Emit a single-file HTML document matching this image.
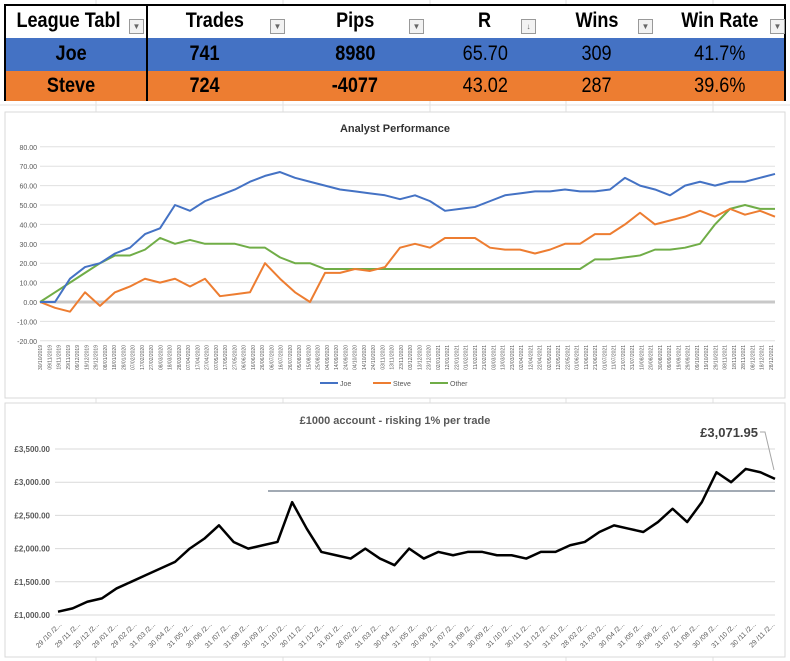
<!DOCTYPE html>
<html><head><meta charset="utf-8">
<style>
body{margin:0;width:790px;height:661px;overflow:hidden;background:#fff;font-family:"Liberation Sans",sans-serif;position:relative}
.cell{position:absolute;font-family:"Liberation Sans",sans-serif;font-size:21px;display:flex;align-items:center;justify-content:center}
.cell span{display:inline-block;transform:scaleX(0.86)}
.hdr{font-weight:bold}
.dd{position:absolute;width:13px;height:13px;border:1px solid #999;background:#f2f2f2;font-size:8px;color:#666;text-align:center;line-height:13px}
svg text{font-family:"Liberation Sans",sans-serif}
</style></head><body>
<svg width="790" height="661" style="position:absolute;left:0;top:0">
<g stroke="#e2e2e2" stroke-width="1">
<line x1="0" y1="105" x2="790" y2="105"/><line x1="96" y1="0" x2="96" y2="661"/><line x1="283" y1="0" x2="283" y2="661"/><line x1="430" y1="0" x2="430" y2="661"/><line x1="566" y1="0" x2="566" y2="661"/><line x1="713" y1="0" x2="713" y2="661"/>
</g></svg>
<div style="position:absolute;left:4px;top:4px;width:782px;height:97px;border:2px solid #000;box-sizing:border-box;background:#fff">
<div style="position:absolute;left:0;top:32px;width:778px;height:33px;background:#4472c4"></div>
<div style="position:absolute;left:0;top:65px;width:778px;height:30px;background:#ed7d31"></div>
<div style="position:absolute;left:140px;top:0;width:2px;height:95px;background:#000"></div>
</div>
<div class="cell hdr" style="left:-2px;top:4px;width:140px;height:34px"><span>League Tabl</span></div>
<div class="cell hdr" style="left:150px;top:4px;width:130px;height:34px"><span>Trades</span></div>
<div class="cell hdr" style="left:290px;top:4px;width:130px;height:34px"><span>Pips</span></div>
<div class="cell hdr" style="left:420px;top:4px;width:130px;height:34px"><span>R</span></div>
<div class="cell hdr" style="left:532px;top:4px;width:130px;height:34px"><span>Wins</span></div>
<div class="cell hdr" style="left:655px;top:4px;width:130px;height:34px"><span>Win Rate</span></div>
<div class="dd" style="left:129px;top:19px">▼</div>
<div class="dd" style="left:270px;top:19px">▼</div>
<div class="dd" style="left:409px;top:19px">▼</div>
<div class="dd" style="left:521px;top:19px">↓</div>
<div class="dd" style="left:638px;top:19px">▼</div>
<div class="dd" style="left:770px;top:19px">▼</div>
<div class="cell hdr" style="left:6px;top:37px;width:130px;height:33px"><span>Joe</span></div>
<div class="cell hdr" style="left:140px;top:37px;width:130px;height:33px"><span>741</span></div>
<div class="cell hdr" style="left:290px;top:37px;width:130px;height:33px"><span>8980</span></div>
<div class="cell" style="left:420px;top:37px;width:130px;height:33px"><span>65.70</span></div>
<div class="cell" style="left:532px;top:37px;width:130px;height:33px"><span>309</span></div>
<div class="cell" style="left:655px;top:37px;width:130px;height:33px"><span>41.7%</span></div>
<div class="cell hdr" style="left:6px;top:70px;width:130px;height:31px"><span>Steve</span></div>
<div class="cell hdr" style="left:140px;top:70px;width:130px;height:31px"><span>724</span></div>
<div class="cell hdr" style="left:290px;top:70px;width:130px;height:31px"><span>-4077</span></div>
<div class="cell" style="left:420px;top:70px;width:130px;height:31px"><span>43.02</span></div>
<div class="cell" style="left:532px;top:70px;width:130px;height:31px"><span>287</span></div>
<div class="cell" style="left:655px;top:70px;width:130px;height:31px"><span>39.6%</span></div>

<svg id="c1" width="790" height="661" style="position:absolute;left:0;top:0"></svg>
<script>
const joe=[0,0,12,18,20,25,28,35,38,50,47,52,55,58,62,65,67,64,62,60,58,57,56,55,53,55,52,47,48,49,52,55,56,57,57,58,57,57,58,64,60,58,55,60,62,60,62,62,64,66];
const steve=[0,-3,-5,5,-2,5,8,12,10,12,8,12,3,4,5,20,12,5,0,15,15,17,16,18,28,30,28,33,33,33,28,27,27,25,27,30,30,35,35,40,46,40,42,44,47,44,48,45,47,44];
const other=[0,5,10,15,20,24,24,27,33,30,32,30,30,30,28,28,23,20,20,17,17,17,17,17,17,17,17,17,17,17,17,17,17,17,17,17,17,22,22,23,24,27,27,28,30,40,48,50,48,48];
const yTicks1=[80,70,60,50,40,30,20,10,0,-10,-20];
const balance=[1050,1100,1200,1250,1400,1500,1600,1700,1800,2000,2150,2350,2100,2000,2050,2100,2700,2300,1950,1900,1850,2000,1850,1750,2000,1850,1950,1900,1950,1950,1900,1900,1850,1950,1950,2050,2100,2250,2350,2300,2250,2400,2600,2400,2700,3150,3000,3200,3150,3050];
const yTicks2=[3500,3000,2500,2000,1500,1000];
const xLabels2=["29 /10 /2...","29 /11 /2...","29 /12 /2...","29 /01 /2...","29 /02 /2...","31 /03 /2...","30 /04 /2...","31 /05 /2...","30 /06 /2...","31 /07 /2...","31 /08 /2...","30 /09 /2...","31 /10 /2...","30 /11 /2...","31 /12 /2...","31 /01 /2...","28 /02 /2...","31 /03 /2...","30 /04 /2...","31 /05 /2...","30 /06 /2...","31 /07 /2...","31 /08 /2...","30 /09 /2...","31 /10 /2...","30 /11 /2...","31 /12 /2...","31 /01 /2...","28 /02 /2...","31 /03 /2...","30 /04 /2...","31 /05 /2...","30 /06 /2...","31 /07 /2...","31 /08 /2...","30 /09 /2...","31 /10 /2...","30 /11 /2...","29 /11 /2..."];
const startDate1="2019-10-30";

const NS="http://www.w3.org/2000/svg";
const svg=document.getElementById('c1');
function mk(t,a,p){const e=document.createElementNS(NS,t);for(const k in a)e.setAttribute(k,a[k]);(p||svg).appendChild(e);return e;}
const X0=40,X1=775;
const f1=mk('rect',{x:5,y:112,width:780,height:286,fill:'#fff',stroke:'#d9d9d9'});


const f2=mk('rect',{x:5,y:403,width:780,height:254,fill:'#fff',stroke:'#d9d9d9'});


const t1=mk('text',{x:395,y:132,'font-size':11,'font-weight':'bold','text-anchor':'middle',fill:'#333'});t1.textContent='Analyst Performance';


const y1=v=>302-(v)*1.94;
const x1=i=>X0+(X1-X0)*i/(joe.length-1);
yTicks1.forEach(v=>{
 const l=mk('line',{x1:X0,x2:X1,y1:y1(v),y2:y1(v),stroke:v===0?'#c8c8c8':'#e0e0e0','stroke-width':v===0?3:1});
 
 
 const t=mk('text',{x:X0-3,y:y1(v)+3,'font-size':7,'text-anchor':'end',fill:'#595959'});t.textContent=v.toFixed(2);
 
 
});
const d0=new Date(startDate1);
for(let k=0;k<80;k++){
 const d=new Date(d0.getTime()+k*10*86400000);
 const s=String(d.getDate()).padStart(2,'0')+'/'+String(d.getMonth()+1).padStart(2,'0')+'/'+d.getFullYear();
 const x=X0+2+k*(X1-X0-4)/79;
 const t=mk('text',{x:x,y:345,'font-size':5,'text-anchor':'end',fill:'#595959',transform:`rotate(-90 ${x} 345)`});t.textContent=s;
 
 
}
function line(arr,xf,yf,color,w,name){
 const p=mk('polyline',{points:arr.map((v,i)=>xf(i)+','+yf(v)).join(' '),fill:'none',stroke:color,'stroke-width':w,'stroke-linejoin':'round'});
 
 
}
line(other,x1,y1,'#70ad47',2,'series-other');
line(steve,x1,y1,'#ed7d31',2,'series-steve');
line(joe,x1,y1,'#4472c4',2,'series-joe');
[['Joe','#4472c4',320],['Steve','#ed7d31',373],['Other','#70ad47',430]].forEach(([n,c,x])=>{
 const l=mk('line',{x1:x,x2:x+18,y1:383,y2:383,stroke:c,'stroke-width':2});
 
 
 const t=mk('text',{x:x+20,y:386,'font-size':7,fill:'#595959'});t.textContent=n;
 
 
});
const t2=mk('text',{x:395,y:424,'font-size':11,'font-weight':'bold','text-anchor':'middle',fill:'#595959'});t2.textContent='£1000 account - risking 1% per trade';


const y2=v=>615-(v-1000)*0.0664;
const x2=i=>X0+18+(X1-X0-18)*i/(balance.length-1);
yTicks2.forEach(v=>{
 const l=mk('line',{x1:X0+15,x2:X1,y1:y2(v),y2:y2(v),stroke:'#d9d9d9'});
 
 
 const t=mk('text',{x:X0+10,y:y2(v)+3,'font-size':8,'font-weight':'bold','text-anchor':'end',fill:'#595959'});t.textContent='£'+v.toLocaleString('en-GB')+'.00';
 
 
});
xLabels2.forEach((s,k)=>{
 const x=X0+22+k*(X1-X0-22)/(xLabels2.length-1);
 const t=mk('text',{x:x,y:625,'font-size':7,'text-anchor':'end',fill:'#595959',transform:`rotate(-45 ${x} 625)`});t.textContent=s;
 
 
});
const hl=mk('line',{x1:268,x2:775,y1:491,y2:491,stroke:'#44546a'});


line(balance,x2,y2,'#000',2.5,'series-balance');
const al=mk('polyline',{points:'760,432 765,432 774,470',fill:'none',stroke:'#a6a6a6'});


const at=mk('text',{x:758,y:437,'font-size':13,'font-weight':'bold','text-anchor':'end',fill:'#404040'});at.textContent='£3,071.95';


</script>
</body></html>
